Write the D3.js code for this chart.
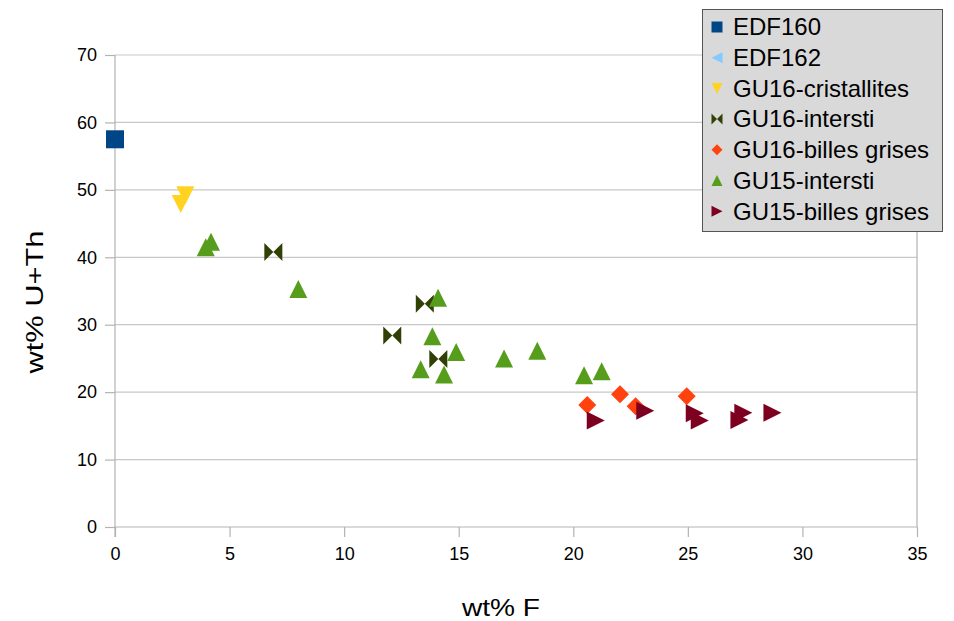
<!DOCTYPE html>
<html>
<head>
<meta charset="utf-8">
<script src="https://cdn.jsdelivr.net/npm/d3@7"></script>
<style>
  html, body { margin: 0; padding: 0; background: #fff; }
  svg { display: block; font-family: "Liberation Sans", Arial, sans-serif; }
</style>
</head>
<body>
<svg id="chart" width="954" height="621"></svg>
<script>
// Series: [wt% F, wt% U+Th]
const edf160 = [[0, 57.5]];
const edf162 = [];
const gu16Cristallites = [[3.07, 49.2], [2.87, 47.9]];
const gu16Intersti = [[6.91, 40.8], [13.52, 33.1], [12.10, 28.4], [14.11, 24.9]];
const gu16Billes = [[20.61, 18.1], [22.04, 19.7], [22.72, 17.9], [24.95, 19.4]];
const gu15Intersti = [
  [3.96, 41.5], [4.19, 42.3], [8.0, 35.3], [14.10, 34.0], [13.85, 28.3],
  [14.89, 25.95], [13.34, 23.4], [14.36, 22.6], [16.98, 25.0], [18.43, 26.15],
  [20.47, 22.5], [21.24, 23.1]
];
const gu15Billes = [
  [20.98, 15.8], [23.14, 17.25], [25.30, 16.86], [25.52, 15.8],
  [27.42, 16.95], [27.25, 15.87], [28.69, 16.95]
];

const xTicks = [0, 5, 10, 15, 20, 25, 30, 35];
const yTicks = [0, 10, 20, 30, 40, 50, 60, 70];

const series = [
  { name: "EDF160", data: edf160, color: "#004586", shape: "square" },
  { name: "EDF162", data: edf162, color: "#83caff", shape: "left" },
  { name: "GU16-cristallites", data: gu16Cristallites, color: "#ffd320", shape: "down" },
  { name: "GU16-intersti", data: gu16Intersti, color: "#314004", shape: "bowtie" },
  { name: "GU16-billes grises", data: gu16Billes, color: "#ff420e", shape: "diamond" },
  { name: "GU15-intersti", data: gu15Intersti, color: "#579d1c", shape: "up" },
  { name: "GU15-billes grises", data: gu15Billes, color: "#7e0021", shape: "right" }
];

const svg = d3.select("#chart");
const margin = { left: 115, right: 37, top: 55, bottom: 94 };
const W = 954, H = 621;

const x = d3.scaleLinear().domain([0, 35]).range([margin.left, W - margin.right]);
const y = d3.scaleLinear().domain([0, 70]).range([H - margin.bottom, margin.top]);

const grid = "#c8c8c8";
const axisCol = "#b3b3b3";

// horizontal gridlines
svg.append("g").selectAll("line").data(yTicks.filter(d => d > 0)).join("line")
  .attr("x1", x(0)).attr("x2", x(35))
  .attr("y1", d => y(d)).attr("y2", d => y(d))
  .attr("stroke", grid).attr("stroke-width", 1.2);

// right border of plot area
svg.append("line")
  .attr("x1", x(35)).attr("x2", x(35)).attr("y1", y(70)).attr("y2", y(0))
  .attr("stroke", axisCol).attr("stroke-width", 1.2);

// axes
const xAxis = svg.append("g")
  .attr("transform", `translate(0,${y(0)})`)
  .call(d3.axisBottom(x).tickValues(xTicks).tickSize(10).tickPadding(10).tickFormat(d3.format("d")));
const yAxis = svg.append("g")
  .attr("transform", `translate(${x(0)},0)`)
  .call(d3.axisLeft(y).tickValues(yTicks).tickSize(10).tickPadding(8).tickFormat(d3.format("d")));

[xAxis, yAxis].forEach(a => {
  a.select(".domain").attr("stroke", axisCol).attr("stroke-width", 1.2);
  a.selectAll(".tick line").attr("stroke", axisCol).attr("stroke-width", 1.2);
  a.selectAll(".tick text").attr("fill", "#000").style("font-size", "18px")
    .style("font-family", "'Liberation Sans', Arial, sans-serif");
});
xAxis.select(".domain").attr("d", `M${x(0)},0H${x(35)}`);
yAxis.select(".domain").attr("d", `M0,${y(0) + 10}V${y(70)}`);

// axis titles
svg.append("text")
  .attr("x", 501).attr("y", 616)
  .attr("text-anchor", "middle").style("font-size", "24px")
  .attr("textLength", 78).attr("lengthAdjust", "spacingAndGlyphs")
  .text("wt% F");
svg.append("text")
  .attr("transform", `translate(43,302) rotate(-90)`)
  .attr("text-anchor", "middle").style("font-size", "24px")
  .attr("textLength", 143).attr("lengthAdjust", "spacingAndGlyphs")
  .text("wt% U+Th");

// marker paths centred at origin, s = box size
function markerPath(shape, s) {
  const h = s / 2;
  switch (shape) {
    case "square": return `M${-h},${-h}H${h}V${h}H${-h}Z`;
    case "up": return `M0,${-h}L${h},${h}L${-h},${h}Z`;
    case "down": return `M${-h},${-h}L${h},${-h}L0,${h}Z`;
    case "left": return `M${-h},0L${h},${-h}L${h},${h}Z`;
    case "right": return `M${-h},${-h}L${h},0L${-h},${h}Z`;
    case "diamond": return `M0,${-h}L${h},0L0,${h}L${-h},0Z`;
    case "bowtie": return `M${-h},${-h}L0,0L${h},${-h}L${h},${h}L0,0L${-h},${h}Z`;
  }
}

const size = 18;
series.forEach(s => {
  svg.append("g").selectAll("path").data(s.data).join("path")
    .attr("d", markerPath(s.shape, size))
    .attr("transform", d => `translate(${x(d[0])},${y(d[1])})`)
    .attr("fill", s.color);
});

// legend
const lg = svg.append("g");
lg.append("rect").attr("x", 702.5).attr("y", 9.5).attr("width", 240).attr("height", 222)
  .attr("fill", "#d9d9d9").attr("stroke", "#555").attr("stroke-width", 1);
series.forEach((s, i) => {
  const cy = 27 + i * 30.7;
  lg.append("path").attr("d", markerPath(s.shape, 11))
    .attr("transform", `translate(717,${cy})`).attr("fill", s.color);
  lg.append("text").attr("x", 733).attr("y", cy + 8.3)
    .style("font-size", "24px").attr("fill", "#000").text(s.name);
});
</script>
</body>
</html>
